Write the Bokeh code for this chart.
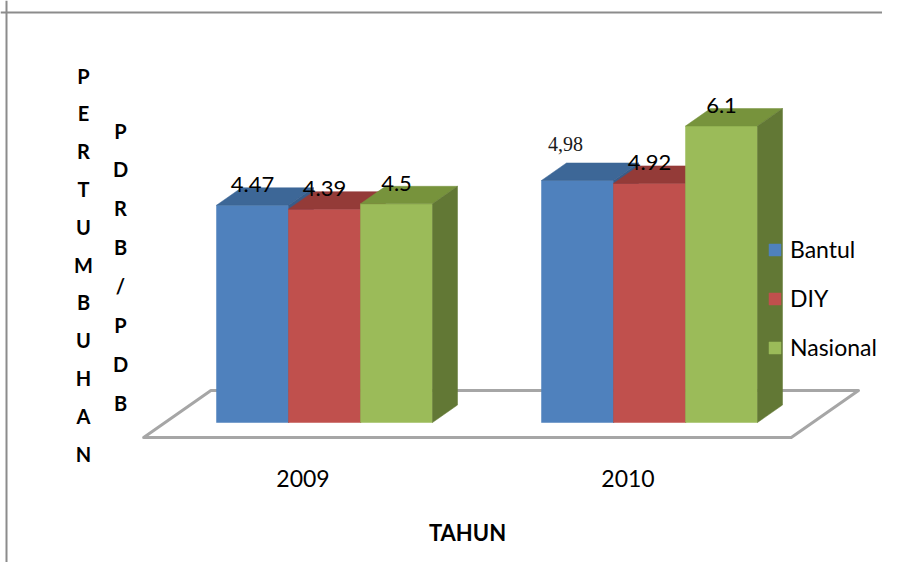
from bokeh.plotting import figure
from bokeh.models import Range1d, Span, Legend, LegendItem
from bokeh.core.properties import value
from bokeh.embed import file_html
from bokeh.resources import INLINE

# ---------------- data ----------------
years = ["2009", "2010"]
series = ["Bantul", "DIY", "Nasional"]
bantul = [4.47, 4.98]
diy = [4.39, 4.92]
nasional = [4.5, 6.1]
bantul_labels = ["4.47", "4,98"]
diy_labels = ["4.39", "4.92"]
nasional_labels = ["4.5", "6.1"]
y_title_1 = "PERTUMBUHAN"
y_title_2 = "PDRB/PDB"
x_title = "TAHUN"

values = [bantul, diy, nasional]
labels = [bantul_labels, diy_labels, nasional_labels]

# ---------------- styles / layout ----------------
W_FIG, H_FIG = 882, 562
SX = 325.0          # px per category step
SY = 48.6           # px per value unit
G0_PX = 324.0       # x of first category centre
BASE_PX = 422.0     # y of value 0 (front)
FRAME_L, FRAME_T = 0.0, 0.0

x0 = (FRAME_L - G0_PX) / SX
x1 = x0 + W_FIG / SX
y1 = (BASE_PX - FRAME_T) / SY
y0 = y1 - H_FIG / SY


def px_x(px):
    return x0 + (px - FRAME_L) / SX


def px_y(py):
    return y1 - (py - FRAME_T) / SY


BW = 72.0 / SX          # bar width
DX = 25.0 / SX          # depth offset (x)
DY = 17.5 / SY          # depth offset (y)
Z_FRONT, Z_BACK = -0.86, 1.83
FLOOR_ML, FLOOR_MR = 0.158, 0.17

front_cols = ["#4F81BD", "#C0504D", "#9BBB59"]
top_cols = ["#3D6797", "#943B38", "#77933C"]
side_cols = ["#385D8A", "#8A3634", "#627835"]

p = figure(width=W_FIG, height=H_FIG, output_backend="svg", toolbar_location=None,
           x_range=Range1d(x0, x1), y_range=Range1d(y0, y1),
           x_axis_type=None, y_axis_type=None,
           min_border_left=0, min_border_right=0, min_border_top=0, min_border_bottom=0)
p.grid.visible = False
p.outline_line_color = None
p.background_fill_color = "white"
p.border_fill_color = "white"

# border (left and top)
p.add_layout(Span(location=px_x(6), dimension="height", line_color="#8C8C8C", line_width=2))
p.add_layout(Span(location=px_y(12), dimension="width", line_color="#8C8C8C", line_width=2))

ncat = len(years)
cats = list(range(ncat))


def proj(x, y, z):
    return x + z * DX, y + z * DY


# floor
fl = cats[0] - 1.5 * BW - FLOOR_ML
fr = cats[-1] + 1.5 * BW + FLOOR_MR
corners = [proj(fl, 0, Z_FRONT), proj(fl, 0, Z_BACK), proj(fr, 0, Z_BACK), proj(fr, 0, Z_FRONT)]
p.patch([c[0] for c in corners], [c[1] for c in corners], fill_color="white",
        line_color="#A6A6A6", line_width=3, line_join="round")

# bars
fronts = []
for s, vals in enumerate(values):
    centers = [c + (s - 1) * BW for c in cats]
    r = p.vbar(x=centers, top=vals, bottom=0, width=BW, fill_color=front_cols[s],
               line_color=front_cols[s], line_width=0.5)
    fronts.append(r)
    txs, tys, sxs, sys_ = [], [], [], []
    for cx, v in zip(centers, vals):
        l, rr = cx - BW / 2, cx + BW / 2
        pts = [proj(l, v, 0), proj(rr, v, 0), proj(rr, v, 1), proj(l, v, 1)]
        txs.append([q[0] for q in pts]); tys.append([q[1] for q in pts])
        pts = [proj(rr, 0, 0), proj(rr, v, 0), proj(rr, v, 1), proj(rr, 0, 1)]
        sxs.append([q[0] for q in pts]); sys_.append([q[1] for q in pts])
    p.patches(txs, tys, fill_color=top_cols[s], line_color=top_cols[s], line_width=0.5)
    p.patches(sxs, sys_, fill_color=side_cols[s], line_color=side_cols[s], line_width=0.5)

# value labels
for s, (vals, labs) in enumerate(zip(values, labels)):
    centers = [c + (s - 1) * BW for c in cats]
    for cx, v, t in zip(centers, vals, labs):
        if "," in t:
            p.text(x=[cx], y=[v + DY], text=[t], text_align="center", text_baseline="alphabetic",
                   x_offset=-12, y_offset=-19, text_font=value("Liberation Serif"),
                   text_font_size="20px", text_color="#1a1a1a")
        else:
            p.text(x=[cx], y=[v + DY], text=[t], text_align="center", text_baseline="alphabetic",
                   y_offset=-3, text_font=value("Lato"), text_font_size="22px", text_color="#000000")

# category labels
p.text(x=[c + Z_FRONT * DX for c in cats], y=[Z_FRONT * DY] * ncat, text=years,
       text_align="center", text_baseline="middle", y_offset=41,
       text_font=value("Lato"), text_font_size="23px", text_color="#000000")

# axis titles
p.text(x=[px_x(467)], y=[px_y(532)], text=[x_title], text_align="center", text_baseline="middle",
       text_font=value("Lato"), text_font_style="bold", text_font_size="22px", text_color="#000000")
n1 = len(y_title_1)
p.text(x=[px_x(83)] * n1, y=[px_y(75 + i * 37.8) for i in range(n1)], text=list(y_title_1),
       text_align="center", text_baseline="middle", text_font=value("Lato"),
       text_font_style="bold", text_font_size="20px", text_color="#000000")
n2 = len(y_title_2)
p.text(x=[px_x(120)] * n2, y=[px_y(130 + i * 38.9) for i in range(n2)], text=list(y_title_2),
       text_align="center", text_baseline="middle", text_font=value("Lato"),
       text_font_style="bold", text_font_size="20px", text_color="#000000")

# legend
legend = Legend(items=[LegendItem(label=n, renderers=[r]) for n, r in zip(series, fronts)],
                location=(767, 201), orientation="vertical",
                glyph_width=15, glyph_height=15, label_standoff=8, spacing=21,
                padding=0, margin=0, border_line_color=None, background_fill_alpha=0,
                label_text_font="Lato", label_text_font_size="23px",
                label_text_color="#000000")
p.add_layout(legend)

open("out.html", "w").write(file_html(p, INLINE))
